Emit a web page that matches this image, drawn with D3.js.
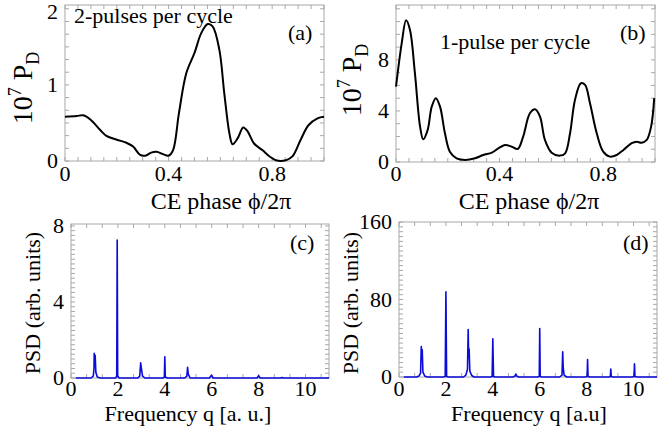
<!DOCTYPE html>
<html>
<head>
<meta charset="utf-8">
<script src="https://cdn.jsdelivr.net/npm/d3@7"></script>
<style>
  body { margin: 0; background: #fff; }
  svg { display: block; }
  text { font-family: "Liberation Serif", "Times New Roman", serif; fill: #000; }
</style>
</head>
<body>
<div id="chart"></div>
<script>
// (a) 2-pulses per cycle: CE phase vs 10^7 P_D
const phaseA = [0, 0.045, 0.07, 0.10, 0.135, 0.16, 0.2, 0.237, 0.263, 0.29, 0.31, 0.333, 0.353, 0.378, 0.40, 0.417, 0.44, 0.468, 0.5, 0.526, 0.551, 0.57, 0.596, 0.615, 0.635, 0.647, 0.667, 0.688, 0.705, 0.73, 0.763, 0.79, 0.814, 0.853, 0.878, 0.91, 0.94, 0.975, 1.0];
const pdA = [0.58, 0.59, 0.6, 0.54, 0.41, 0.33, 0.28, 0.24, 0.19, 0.08, 0.07, 0.11, 0.12, 0.09, 0.07, 0.14, 0.63, 1.15, 1.42, 1.68, 1.80, 1.77, 1.46, 0.89, 0.36, 0.22, 0.30, 0.44, 0.39, 0.23, 0.14, 0.06, 0.01, 0.01, 0.06, 0.28, 0.47, 0.56, 0.58];

// (b) 1-pulse per cycle
const phaseB = [0, 0.022, 0.039, 0.054, 0.073, 0.093, 0.105, 0.122, 0.138, 0.154, 0.17, 0.189, 0.208, 0.234, 0.266, 0.305, 0.337, 0.37, 0.395, 0.421, 0.447, 0.47, 0.491, 0.517, 0.537, 0.556, 0.575, 0.601, 0.633, 0.653, 0.672, 0.691, 0.714, 0.73, 0.749, 0.775, 0.8, 0.826, 0.852, 0.878, 0.91, 0.929, 0.948, 0.968, 0.985, 0.997];
const pdB = [5.9, 9.3, 11.1, 10.35, 6.96, 2.77, 1.78, 2.5, 4.34, 5.0, 4.34, 2.25, 0.81, 0.29, 0.16, 0.29, 0.55, 0.73, 1.07, 1.33, 1.2, 1.02, 1.99, 3.82, 4.13, 3.56, 1.73, 0.73, 0.5, 0.68, 2.25, 4.86, 6.17, 6.04, 4.6, 2.25, 0.81, 0.42, 0.55, 0.94, 1.47, 1.59, 1.51, 1.73, 2.77, 5.0];

// (c) PSD, 2-pulses per cycle: [q, psd]
const spectrumC = [
  [0.2, 0], [0.85, 0], [0.95, 0.1], [0.98, 0.5], [0.99, 1.3], [1.01, 0.9], [1.03, 1.2], [1.06, 0.3], [1.12, 0.05], [1.25, 0],
  [1.9, 0], [1.95, 0.1], [1.97, 7.25], [1.99, 0.1], [2.05, 0],
  [2.85, 0], [2.93, 0.1], [2.97, 0.8], [3.0, 0.5], [3.05, 0.1], [3.15, 0],
  [3.92, 0], [3.98, 0.05], [4.0, 1.12], [4.02, 0.05], [4.1, 0],
  [4.85, 0], [4.94, 0.1], [4.97, 0.56], [5.0, 0.2], [5.08, 0],
  [5.9, 0], [5.99, 0.15], [6.06, 0],
  [7.93, 0], [8.0, 0.12], [8.06, 0],
  [8.95, 0], [9.0, 0.03], [9.05, 0],
  [11, 0]
];

// (d) PSD, 1-pulse per cycle: [q, psd]
const spectrumD = [
  [0.2, 0], [0.75, 0], [0.85, 1], [0.92, 4], [0.95, 31.5], [0.97, 22], [0.99, 28], [1.02, 5], [1.1, 1], [1.2, 0],
  [1.9, 0], [1.97, 0.5], [2.0, 88], [2.03, 0.5], [2.1, 0],
  [2.75, 0], [2.85, 2], [2.92, 8], [2.95, 49], [2.97, 20], [2.99, 29], [3.02, 6], [3.1, 1.5], [3.2, 0],
  [3.9, 0], [3.97, 0.5], [4.0, 39.5], [4.03, 0.5], [4.1, 0],
  [4.85, 0], [4.95, 1], [4.98, 3], [5.02, 1], [5.1, 0],
  [5.9, 0], [5.98, 0.5], [6.0, 50], [6.02, 0.5], [6.1, 0],
  [6.85, 0], [6.95, 2], [6.98, 26], [7.0, 10], [7.04, 2], [7.15, 0],
  [7.95, 0], [8.02, 0.5], [8.04, 18], [8.06, 0.5], [8.15, 0],
  [8.95, 0], [9.01, 0.5], [9.03, 8.3], [9.05, 0.5], [9.12, 0],
  [9.95, 0], [10.02, 0.5], [10.04, 13.5], [10.06, 0.5], [10.15, 0],
  [11, 0]
];

const phaseTicks = [0, 0.4, 0.8];
const freqTicks = [0, 2, 4, 6, 8, 10];
const yTicksA = [0, 1, 2];
const yTicksB = [0, 4, 8];
const yTicksC = [0, 4, 8];
const yTicksD = [0, 80, 160];

const W = 670, H = 428;
const svg = d3.select("#chart").append("svg").attr("width", W).attr("height", H);

const panels = [
  {
    x0: 65, x1: 324, yb: 161, yt: 5, xDom: [0, 1], yDom: [0, 2.05],
    data: phaseA.map((p, i) => [p, pdA[i]]), color: "#000", width: 2, smooth: true,
    xTicks: phaseTicks, yTicks: yTicksA, xMinor: 0.05, yMinor: 1 / 6, tickDy: 20,
    tag: "(a)", tagX: 288, tagY: 40,
    note: "2-pulses per cycle", noteX: 74, noteY: 23,
    xLabel: "CE phase \u03d5/2\u03c0", xLabelSize: 24, xLabelX: 221, xLabelY: 209,
    yLabel: "pd", yLabelX: 32, yLabelY: 88
  },
  {
    x0: 396, x1: 655, yb: 162, yt: 5, xDom: [0, 1], yDom: [0, 12.3],
    data: phaseB.map((p, i) => [p, pdB[i]]), color: "#000", width: 2, smooth: true,
    xTicks: phaseTicks, yTicks: yTicksB, xMinor: 0.05, yMinor: 1, tickDy: 19,
    tag: "(b)", tagX: 620, tagY: 40,
    note: "1-pulse per cycle", noteX: 440, noteY: 49,
    xLabel: "CE phase \u03d5/2\u03c0", xLabelSize: 24, xLabelX: 529, xLabelY: 209,
    yLabel: "pd", yLabelX: 361, yLabelY: 80
  },
  {
    x0: 71, x1: 329, yb: 378, yt: 224, xDom: [0, 11], yDom: [0, 8.1],
    data: spectrumC, color: "#0b0bdc", width: 1.6, smooth: false,
    xTicks: freqTicks, yTicks: yTicksC, xMinor: 2 / 3, yMinor: 0.25, tickDy: 18,
    tag: "(c)", tagX: 290, tagY: 250,
    xLabel: "Frequency q [a. u.]", xLabelSize: 22, xLabelX: 188, xLabelY: 421,
    yLabel: "PSD (arb. units)", yLabelX: 40, yLabelY: 303
  },
  {
    x0: 399, x1: 657, yb: 377, yt: 222, xDom: [0, 11], yDom: [0, 160],
    data: spectrumD, color: "#0b0bdc", width: 1.6, smooth: false,
    xTicks: freqTicks, yTicks: yTicksD, xMinor: 2 / 3, yMinor: 5, tickDy: 19,
    tag: "(d)", tagX: 623, tagY: 250,
    xLabel: "Frequency q [a.u]", xLabelSize: 22, xLabelX: 529, xLabelY: 421,
    yLabel: "PSD (arb. units)", yLabelX: 358, yLabelY: 303
  }
];

const frameColor = "#a8a8a8";

panels.forEach((p) => {
  const x = d3.scaleLinear().domain(p.xDom).range([p.x0, p.x1]);
  const y = d3.scaleLinear().domain(p.yDom).range([p.yb, p.yt]);
  const g = svg.append("g");

  // frame
  g.append("rect")
    .attr("x", p.x0).attr("y", p.yt)
    .attr("width", p.x1 - p.x0).attr("height", p.yb - p.yt)
    .attr("fill", "none").attr("stroke", frameColor).attr("stroke-width", 1);

  // minor ticks pointing inward on all four sides
  const xm = d3.range(p.xDom[0], p.xDom[1] + 1e-9, p.xMinor);
  const ym = d3.range(p.yDom[0], p.yDom[1] + 1e-9, p.yMinor);
  const tl = 4;
  g.selectAll(".xt").data(xm).join("line")
    .attr("x1", (d) => x(d)).attr("x2", (d) => x(d))
    .attr("y1", p.yb).attr("y2", p.yb - tl)
    .attr("stroke", frameColor);
  g.selectAll(".xtt").data(xm).join("line")
    .attr("x1", (d) => x(d)).attr("x2", (d) => x(d))
    .attr("y1", p.yt).attr("y2", p.yt + tl)
    .attr("stroke", frameColor);
  g.selectAll(".yt").data(ym).join("line")
    .attr("x1", p.x0).attr("x2", p.x0 + tl)
    .attr("y1", (d) => y(d)).attr("y2", (d) => y(d))
    .attr("stroke", frameColor);
  g.selectAll(".ytr").data(ym).join("line")
    .attr("x1", p.x1).attr("x2", p.x1 - tl)
    .attr("y1", (d) => y(d)).attr("y2", (d) => y(d))
    .attr("stroke", frameColor);

  // tick labels
  g.selectAll(".xl").data(p.xTicks).join("text")
    .attr("x", (d) => x(d)).attr("y", p.yb + p.tickDy)
    .attr("text-anchor", "middle").attr("font-size", 22)
    .text((d) => d);
  g.selectAll(".yl").data(p.yTicks).join("text")
    .attr("x", p.x0 - 7).attr("y", (d) => Math.max(y(d) + 7, 19))
    .attr("text-anchor", "end").attr("font-size", 22)
    .text((d) => d);

  // data line
  const line = d3.line()
    .x((d) => x(d[0])).y((d) => y(d[1]))
    .curve(p.smooth ? d3.curveCatmullRom.alpha(0.5) : d3.curveLinear);
  g.append("path")
    .datum(p.data)
    .attr("d", line)
    .attr("fill", "none")
    .attr("stroke", p.color)
    .attr("stroke-width", p.width)
    .attr("stroke-linejoin", "round");

  // axis titles
  g.append("text")
    .attr("x", p.xLabelX).attr("y", p.xLabelY)
    .attr("text-anchor", "middle").attr("font-size", p.xLabelSize)
    .text(p.xLabel);

  const yl = g.append("text")
    .attr("transform", `translate(${p.yLabelX},${p.yLabelY}) rotate(-90)`)
    .attr("text-anchor", "middle");
  if (p.yLabel === "pd") {
    yl.attr("font-size", 28);
    yl.append("tspan").text("10");
    yl.append("tspan").attr("font-size", 18).attr("dy", -11).text("7");
    yl.append("tspan").attr("dy", 11).text(" P");
    yl.append("tspan").attr("font-size", 18).attr("dy", 7).text("D");
  } else {
    yl.attr("font-size", 22).text(p.yLabel);
  }

  g.append("text")
    .attr("x", p.tagX).attr("y", p.tagY)
    .attr("font-size", 22).text(p.tag);
  if (p.note) {
    g.append("text")
      .attr("x", p.noteX).attr("y", p.noteY)
      .attr("font-size", 22).text(p.note);
  }
});
</script>
</body>
</html>
